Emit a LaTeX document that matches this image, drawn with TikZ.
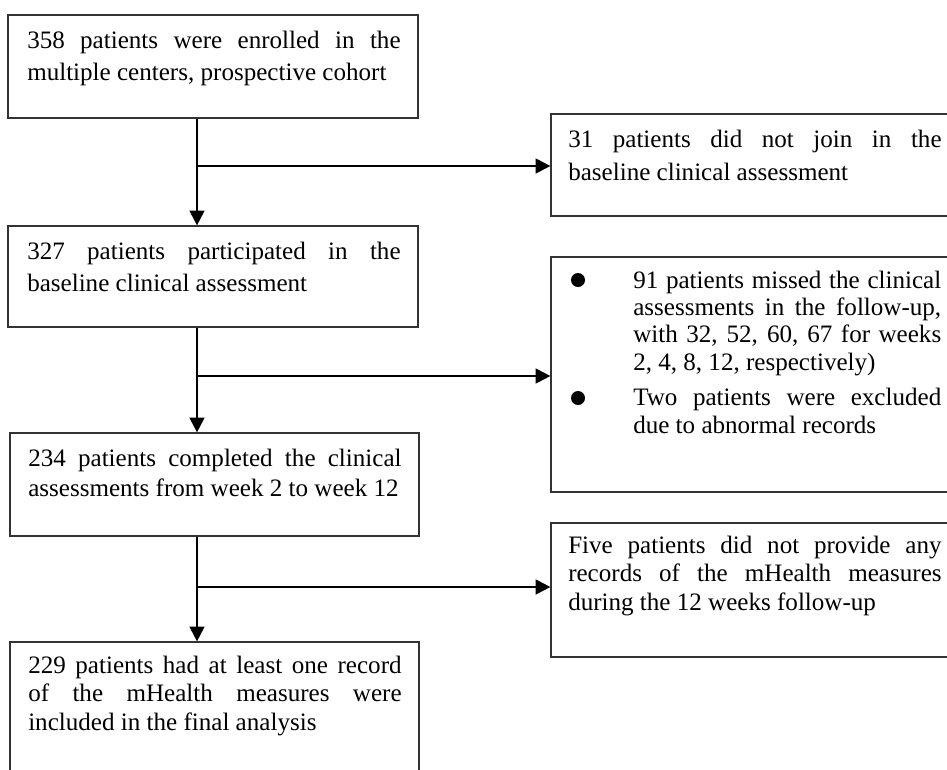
\documentclass[tikz,border=0pt]{standalone}
\usepackage{fontspec}
\setmainfont{Liberation Serif}
\usetikzlibrary{arrows.meta,fit}
\begin{document}
\begin{tikzpicture}[x=0.75pt,y=-0.75pt,
  box/.style={draw=black!80,line width=0.9pt,inner sep=0pt,rectangle},
  txt/.style={anchor=base west,inner sep=0pt,text width=280pt,align=justify,
    font=\fontsize{18.8}{#1}\selectfont},
  btxt/.style={anchor=base west,inner sep=0pt,text width=231pt,align=justify,
    font=\fontsize{18.8}{#1}\selectfont},
  bul/.style={circle,fill=black,inner sep=0pt,minimum size=10.5pt},
  arr/.style={draw=black,line width=1.6pt,-{Triangle[length=11pt,width=11pt]}}]
\clip (0,0) rectangle (947,769);
\fill[white] (0,0) rectangle (947,769);
% left boxes
\node[box,fit={(8,15) (418,118)}] (b1) {};
\node[box,fit={(8,226) (418,327)}] (b2) {};
\node[box,fit={(10,433) (419,536)}] (b3) {};
\node[box,fit={(10,642) (419,800)}] (b4) {};
% right boxes
\node[box,fit={(551,114) (961,216)}] (r1) {};
\node[box,fit={(551,257) (961,492)}] (r2) {};
\node[box,fit={(551,523) (961,657)}] (r3) {};
% texts
\node[txt=24pt] (t1) at (27,48.3) {358 patients were enrolled in the\linebreak multiple centers, prospective cohort};
\node[txt=24pt] (t2) at (27,259) {327 patients participated in the\linebreak baseline clinical assessment};
\node[txt=22.5pt] (t3) at (28,466.7) {234 patients completed the clinical\linebreak assessments from week 2 to week 12};
\node[txt=21.7pt] (t4) at (28,673) {229 patients had at least one record\linebreak of the mHealth measures were\linebreak included in the final analysis};
\node[txt=24.75pt] (rt1) at (568,147.7) {31 patients did not join in the\linebreak baseline clinical assessment};
\node[bul] (bu1) at (578,280) {};
\node[btxt=20.5pt] (rt2a) at (633,288) {91 patients missed the clinical\linebreak assessments in the follow-up,\linebreak with 32, 52, 60, 67 for weeks\linebreak 2, 4, 8, 12, respectively)};
\node[bul] (bu2) at (578,398) {};
\node[btxt=21pt] (rt2b) at (633,405) {Two patients were excluded\linebreak due to abnormal records};
\node[txt=21.4pt] (rt3) at (568,553) {Five patients did not provide any\linebreak records of the mHealth measures\linebreak during the 12 weeks follow-up};
% junctions
\coordinate (j1) at (197,166);
\coordinate (j2) at (197,376);
\coordinate (j3) at (197,587);
% connectors
\draw[arr] (b1.south -| j1) -- (b2.north -| j1);
\draw[arr] (j1) -- (j1 -| r1.west);
\draw[arr] (b2.south -| j2) -- (b3.north -| j2);
\draw[arr] (j2) -- (j2 -| r2.west);
\draw[arr] (b3.south -| j3) -- (b4.north -| j3);
\draw[arr] (j3) -- (j3 -| r3.west);
\end{tikzpicture}
\end{document}
